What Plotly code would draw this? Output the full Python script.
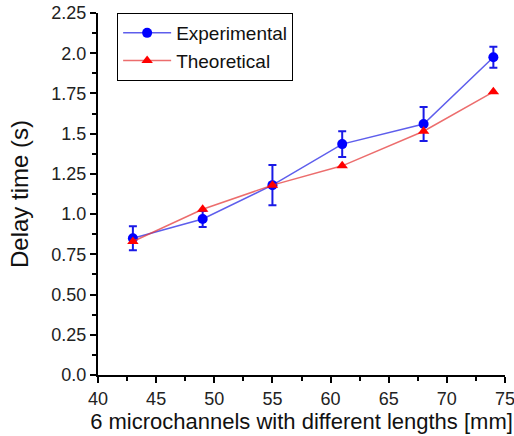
import plotly.graph_objects as go

lengths = [43, 49, 55, 61, 68, 74]
experimental = [0.85, 0.97, 1.18, 1.435, 1.56, 1.975]
exp_err = [0.075, 0.05, 0.125, 0.08, 0.105, 0.065]
theoretical = [0.83, 1.03, 1.18, 1.30, 1.515, 1.76]

y_ticks = [0, 0.25, 0.5, 0.75, 1.0, 1.25, 1.5, 1.75, 2.0, 2.25]
y_tick_text = ["0.0", "0.25", "0.50", "0.75", "1.0", "1.25", "1.5", "1.75", "2.0", "2.25"]
x_ticks = [40, 45, 50, 55, 60, 65, 70, 75]

fig = go.Figure()
fig.add_trace(go.Scatter(
    x=lengths, y=experimental, name="Experimental", mode="lines+markers",
    line=dict(color="rgba(40,40,230,0.75)", width=1.5),
    marker=dict(color="#0000ff", size=10, symbol="circle"),
    error_y=dict(type="data", array=exp_err, visible=True, color="#1a1ae6", thickness=2, width=4),
))
fig.add_trace(go.Scatter(
    x=lengths, y=theoretical, name="Theoretical", mode="lines+markers",
    line=dict(color="rgba(230,60,60,0.75)", width=1.5),
    marker=dict(color="#ff0000", size=10, symbol="triangle-up"),
))

FONT = "Liberation Sans, Arial, sans-serif"
axis_font = dict(family=FONT, size=18, color="#222")
fig.update_layout(
    width=514, height=436,
    margin=dict(l=98, r=9, t=13, b=61, autoexpand=False),
    plot_bgcolor="white", paper_bgcolor="white",
    font=dict(family=FONT, color="#111"),
    showlegend=True,
    legend=dict(x=0.047, y=1.0, xanchor="left", yanchor="top",
                bordercolor="black", borderwidth=1, bgcolor="white",
                font=dict(size=19, color="#111"), itemwidth=48),
    xaxis=dict(range=[40, 75], tickvals=x_ticks, ticks="outside", ticklen=6, tickwidth=2,
               tickcolor="black", showline=True, linecolor="black", linewidth=2,
               showgrid=False, zeroline=False, tickfont=axis_font, automargin=False,
               ticklabeloverflow="allow",
               minor=dict(dtick=2.5, tick0=40, ticks="outside", ticklen=4, tickwidth=2, tickcolor="black"),
               title=dict(text="6 microchannels with different lengths [mm]", font=dict(size=22, color="#111"), standoff=0)),
    yaxis=dict(range=[0, 2.25], tickvals=y_ticks, ticktext=y_tick_text, ticks="outside", ticklen=6,
               tickwidth=2, tickcolor="black", showline=True, linecolor="black", linewidth=2,
               showgrid=False, zeroline=False, tickfont=axis_font, automargin=False,
               ticklabeloverflow="allow",
               minor=dict(dtick=0.125, tick0=0, ticks="outside", ticklen=4, tickwidth=2, tickcolor="black"),
               title=dict(text="Delay time (s)", font=dict(size=24, color="#111"), standoff=16)),
)
fig.write_html("out.html", config={"displayModeBar": False},
               post_script="document.body.style.margin='0';document.body.style.overflow='hidden';")
